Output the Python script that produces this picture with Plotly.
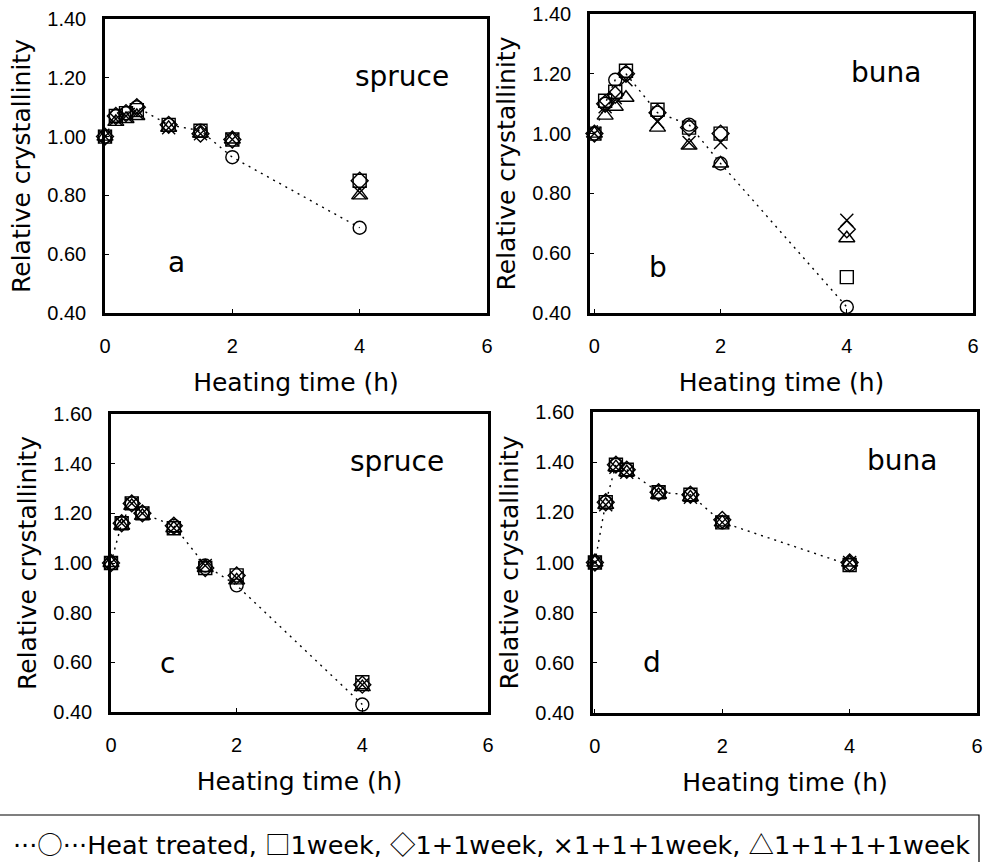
import plotly.graph_objects as go

# ---------------- data ----------------
time_h = [0, 0.17, 0.33, 0.5, 1, 1.5, 2, 4]
series_names = ["Heat treated", "1week", "1+1week", "1+1+1week", "1+1+1+1week"]

# panel a: spruce
a_heat = [1.00, 1.07, 1.08, 1.10, 1.04, 1.02, 0.93, 0.69]
a_1w = [1.00, 1.07, 1.08, 1.09, 1.04, 1.02, 0.99, 0.85]
a_2w = [1.00, 1.07, 1.08, 1.10, 1.04, 1.01, 0.99, 0.85]
a_3w = [1.00, 1.06, 1.07, 1.08, 1.03, 1.01, 0.99, 0.81]
a_4w = [1.00, 1.05, 1.06, 1.07, 1.03, 1.01, 0.99, 0.80]

# panel b: buna
b_heat = [1.00, 1.10, 1.18, 1.20, 1.07, 1.03, 0.90, 0.42]
b_1w = [1.00, 1.11, 1.14, 1.21, 1.08, 1.02, 1.00, 0.52]
b_2w = [1.00, 1.10, 1.13, 1.20, 1.07, 1.02, 1.00, 0.68]
b_3w = [1.00, 1.09, 1.12, 1.18, 1.04, 0.97, 0.97, 0.71]
b_4w = [1.00, 1.06, 1.09, 1.12, 1.02, 0.96, 0.90, 0.65]

# panel c: spruce
c_heat = [1.00, 1.16, 1.24, 1.20, 1.15, 0.99, 0.91, 0.43]
c_1w = [1.00, 1.16, 1.24, 1.20, 1.14, 0.98, 0.95, 0.52]
c_2w = [1.00, 1.16, 1.24, 1.20, 1.15, 0.98, 0.95, 0.51]
c_3w = [1.00, 1.16, 1.24, 1.20, 1.14, 0.99, 0.94, 0.51]
c_4w = [1.00, 1.15, 1.23, 1.19, 1.14, 0.98, 0.93, 0.50]

# panel d: buna
d_heat = [1.00, 1.24, 1.39, 1.37, 1.28, 1.27, 1.16, 0.99]
d_1w = [1.00, 1.24, 1.39, 1.37, 1.28, 1.27, 1.16, 0.99]
d_2w = [1.00, 1.24, 1.39, 1.37, 1.28, 1.27, 1.17, 1.00]
d_3w = [1.00, 1.23, 1.38, 1.36, 1.28, 1.26, 1.16, 1.00]
d_4w = [1.00, 1.23, 1.38, 1.36, 1.27, 1.26, 1.16, 1.00]

panel_species = ["spruce", "buna", "spruce", "buna"]
panel_letters = ["a", "b", "c", "d"]
y_ticks_top = [0.40, 0.60, 0.80, 1.00, 1.20, 1.40]
y_ticks_bottom = [0.40, 0.60, 0.80, 1.00, 1.20, 1.40, 1.60]
x_ticks = [0, 2, 4, 6]

panels = [
    [a_heat, a_1w, a_2w, a_3w, a_4w],
    [b_heat, b_1w, b_2w, b_3w, b_4w],
    [c_heat, c_1w, c_2w, c_3w, c_4w],
    [d_heat, d_1w, d_2w, d_3w, d_4w],
]

# ---------------- style ----------------
symbols = ["circle-open", "square-open", "diamond-open", "x-thin-open", "triangle-up-open"]
TICKFONT = "Liberation Sans, Arial, sans-serif"
TEXTFONT = "DejaVu Sans, Verdana, sans-serif"
SYMFONT = "Noto Sans CJK JP"

fig = go.Figure()
axis_ids = ["", "2", "3", "4"]
for p, series in enumerate(panels):
    ax = axis_ids[p]
    for k, vals in enumerate(series):
        fig.add_trace(go.Scatter(
            x=time_h, y=vals, name=series_names[k],
            xaxis="x" + ax, yaxis="y" + ax,
            mode="lines+markers" if k == 0 else "markers",
            line=dict(color="black", width=1.4, dash="2px,5px"),
            marker=dict(symbol=symbols[k], size=13 if k != 4 else 14,
                        color="black", line=dict(color="black", width=1.4)),
            cliponaxis=False, showlegend=False,
        ))

x_domains = [[105 / 984, 487 / 984], [590 / 984, 973 / 984],
             [111 / 984, 488 / 984], [593 / 984, 977 / 984]]
y_domains = [[1 - 313 / 862, 1 - 19 / 862], [1 - 313 / 862, 1 - 14 / 862],
             [1 - 712 / 862, 1 - 414 / 862], [1 - 713 / 862, 1 - 412 / 862]]
x_ranges = [[0, 6.0], [-0.07, 6.0], [0, 6.0], [-0.03, 6.0]]
y_ranges = [[0.4, 1.4], [0.4, 1.4], [0.4, 1.6], [0.4, 1.6]]

layout = dict(
    width=984, height=862,
    margin=dict(l=0, r=0, t=0, b=0),
    paper_bgcolor="white", plot_bgcolor="white",
    font=dict(family=TEXTFONT, color="black"),
    showlegend=False,
)
for p in range(4):
    ax = axis_ids[p]
    yt = y_ticks_top if p < 2 else y_ticks_bottom
    layout["xaxis" + ax] = dict(
        domain=x_domains[p], range=x_ranges[p], anchor="y" + ax,
        tickvals=x_ticks, ticktext=[str(v) for v in x_ticks],
        ticks="inside", ticklen=4, tickcolor="black",
        showline=True, mirror=True, linecolor="black", linewidth=2.5,
        showgrid=False, zeroline=False,
        tickfont=dict(size=20, family=TICKFONT), ticklabelstandoff=13,
        title=dict(text="Heating time (h)", font=dict(size=25, family=TEXTFONT), standoff=18),
        automargin=False,
    )
    layout["yaxis" + ax] = dict(
        domain=y_domains[p], range=y_ranges[p], anchor="x" + ax,
        tickvals=yt, ticktext=["%.2f" % v for v in yt],
        ticks="inside", ticklen=4, tickcolor="black",
        showline=True, mirror=True, linecolor="black", linewidth=2.5,
        showgrid=False, zeroline=False,
        tickfont=dict(size=20, family=TICKFONT), ticklabelstandoff=12,
        title=dict(text="Relative crystallinity", font=dict(size=25, family=TEXTFONT), standoff=10),
        automargin=False,
    )
fig.update_layout(**layout)

species_pos = [(0.777, 0.803), (0.774, 0.803), (0.759, 0.839), (0.805, 0.84)]
letter_pos = [(0.188, 0.173), (0.178, 0.151), (0.151, 0.164), (0.154, 0.169)]
for p in range(4):
    ax = axis_ids[p]
    fig.add_annotation(x=species_pos[p][0], y=species_pos[p][1],
                       xref="x" + ax + " domain", yref="y" + ax + " domain",
                       xanchor="center", yanchor="middle",
                       text=panel_species[p], showarrow=False,
                       font=dict(size=28, family=TEXTFONT))
    fig.add_annotation(x=letter_pos[p][0], y=letter_pos[p][1],
                       xref="x" + ax + " domain", yref="y" + ax + " domain",
                       xanchor="center", yanchor="middle",
                       text=panel_letters[p], showarrow=False,
                       font=dict(size=28, family=TEXTFONT))

# legend box
fig.add_shape(type="rect", xref="paper", yref="paper",
              x0=-0.01, x1=979 / 984, y0=-0.05, y1=1 - 815 / 862,
              line=dict(color="black", width=1.2), fillcolor="rgba(0,0,0,0)")


def sym(ch):
    return "<span style='font-family:%s'>%s</span>" % (SYMFONT, ch)


legend_text = ("···" + sym("○") + "···" + series_names[0] + ", " + sym("□") + series_names[1]
               + ", " + sym("◇") + series_names[2] + ", ×" + series_names[3]
               + ", " + sym("△") + series_names[4])
fig.add_annotation(x=491 / 984, y=1 - 842 / 862, xref="paper", yref="paper",
                   xanchor="center", yanchor="middle",
                   text=legend_text, showarrow=False,
                   font=dict(size=25.5, family=TEXTFONT))

fig.write_html("out.html")
